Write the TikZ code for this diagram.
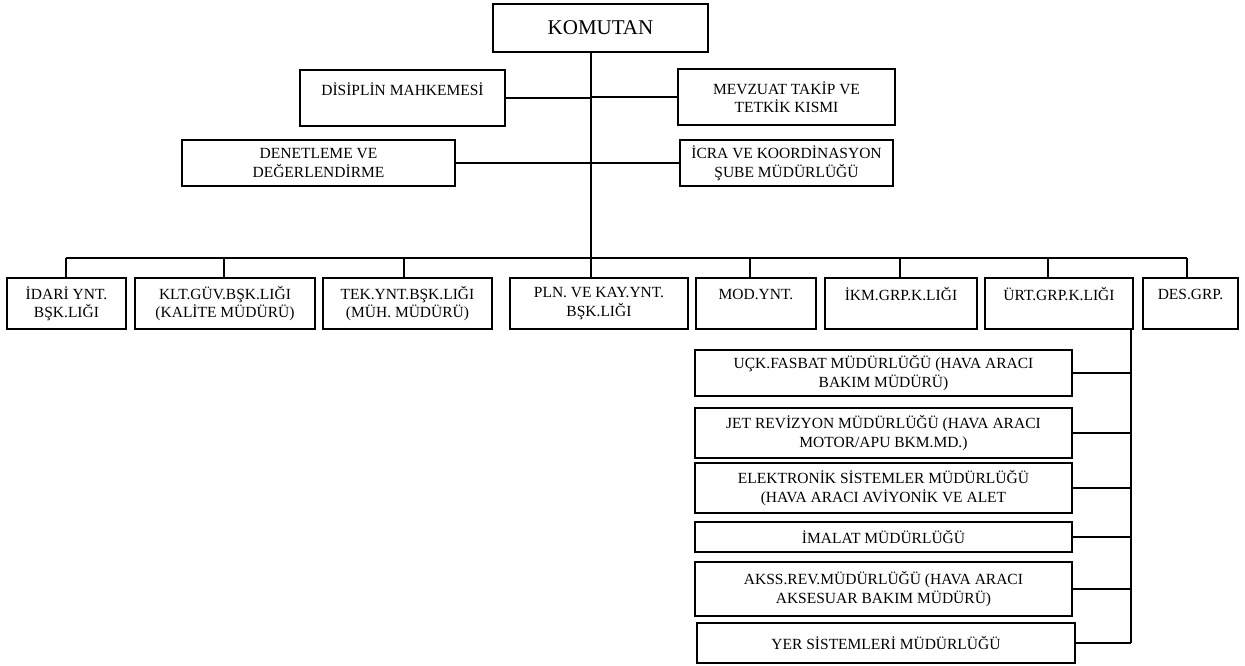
\documentclass[tikz,border=0pt]{standalone}
\usepackage{fontspec}
\setmainfont{Liberation Serif}
% \orgbox{name}{left}{right}{top}{bottom}{text}
\newcommand{\orgbox}[6]{%
  \node[box, minimum width={#3-#2}, minimum height={#5-#4}] (#1)
    at ({(#2+#3)/2},{(#4+#5)/2}) {#6};}
\begin{document}
\begin{tikzpicture}[x=1pt, y=-1pt,
  box/.style={draw, line width=1.6pt, inner sep=0pt, align=center,
              font=\fontsize{15.5}{18.5}\selectfont},
  wire/.style={line width=1.6pt}]
\useasboundingbox (0,0) rectangle (1245,665);

% top of the hierarchy
\orgbox{kom}{493}{708}{4}{52}{\fontsize{21}{24}\selectfont KOMUTAN}

% staff units on the trunk
\orgbox{dis}{300}{505}{70}{126}{DİSİPLİN MAHKEMESİ\\\mbox{}}
\orgbox{mev}{678}{895}{69}{125}{MEVZUAT TAKİP VE\\TETKİK KISMI}
\orgbox{den}{182}{455}{140}{186}{DENETLEME VE\\DEĞERLENDİRME}
\orgbox{icr}{680}{893}{140}{186}{İCRA VE KOORDİNASYON\\ŞUBE MÜDÜRLÜĞÜ}

% main departments
\orgbox{ida}{7}{126}{278}{329}{İDARİ YNT.\\BŞK.LIĞI}
\orgbox{klt}{135}{315}{278}{329}{KLT.GÜV.BŞK.LIĞI\\(KALİTE MÜDÜRÜ)}
\orgbox{tek}{323}{492}{278}{329}{TEK.YNT.BŞK.LIĞI\\(MÜH. MÜDÜRÜ)}
\orgbox{pln}{510}{688}{278}{329}{PLN. VE KAY.YNT.\\BŞK.LIĞI}
\orgbox{mod}{696}{816}{278}{329}{MOD.YNT.\\\mbox{}}
\orgbox{ikm}{825}{977}{278}{329}{İKM.GRP.K.LIĞI\\\mbox{}}
\orgbox{urt}{985}{1133}{278}{329}{ÜRT.GRP.K.LIĞI\\\mbox{}}
\orgbox{des}{1143}{1238}{278}{329}{DES.GRP.\\\mbox{}}

% production group directorates
\orgbox{s1}{695}{1072}{350}{396}{UÇK.FASBAT MÜDÜRLÜĞÜ (HAVA ARACI\\BAKIM MÜDÜRÜ)}
\orgbox{s2}{695}{1072}{408}{458}{JET REVİZYON MÜDÜRLÜĞÜ (HAVA ARACI\\MOTOR/APU BKM.MD.)}
\orgbox{s3}{695}{1072}{463}{513}{ELEKTRONİK SİSTEMLER MÜDÜRLÜĞÜ\\(HAVA ARACI AVİYONİK VE ALET}
\orgbox{s4}{695}{1072}{522}{552}{İMALAT MÜDÜRLÜĞÜ}
\orgbox{s5}{695}{1072}{562}{616}{AKSS.REV.MÜDÜRLÜĞÜ (HAVA ARACI\\AKSESUAR BAKIM MÜDÜRÜ)}
\orgbox{s6}{697}{1075}{623}{663}{YER SİSTEMLERİ MÜDÜRLÜĞÜ}

% trunk and bus
\coordinate (trunk) at (591,52);
\coordinate (b1) at (66,258);
\coordinate (b2) at (224,258);
\coordinate (b3) at (404,258);
\coordinate (b5) at (750,258);
\coordinate (b6) at (900,258);
\coordinate (b7) at (1048,258);
\coordinate (b8) at (1187,258);
\draw[wire] (trunk) -- (trunk |- pln.north);
\draw[wire] (b1) -- (b8);
\foreach \b/\n in {b1/ida, b2/klt, b3/tek, b5/mod, b6/ikm, b7/urt, b8/des}
  \draw[wire] (\b) -- (\b |- \n.north);

% staff connectors
\draw[wire] (dis.east) -- (dis.east -| trunk);
\draw[wire] (mev.west) -- (mev.west -| trunk);
\draw[wire] (den.east) -- (den.east -| trunk);
\draw[wire] (icr.west) -- (icr.west -| trunk);

% production group spine
\coordinate (spine) at (1131,329);
\draw[wire] (spine) -- (spine |- s6.east);
\foreach \n in {s1,s2,s3,s4,s5,s6}
  \draw[wire] (\n.east) -- (\n.east -| spine);
\end{tikzpicture}
\end{document}
